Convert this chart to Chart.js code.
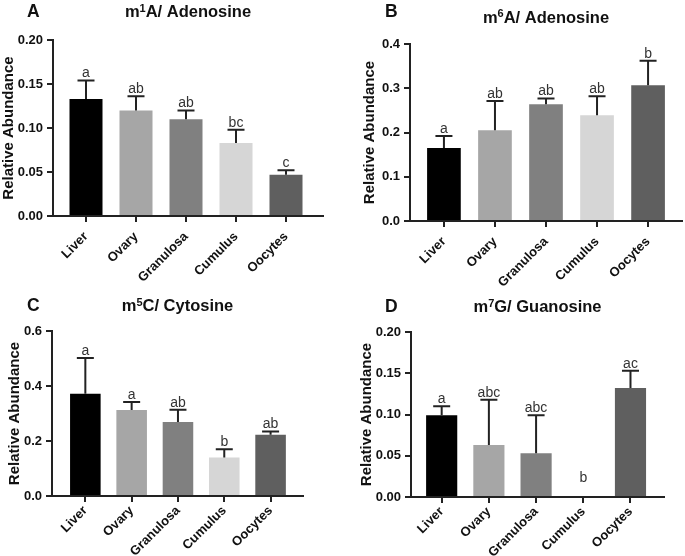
<!DOCTYPE html>
<html>
<head>
<meta charset="utf-8">
<script src="https://cdn.jsdelivr.net/npm/chart.js@4"></script>
<style>
  body { margin: 0; background: #fff; width: 685px; height: 556px; position: relative; overflow: hidden; }
  canvas { position: absolute; }
</style>
</head>
<body>
<canvas id="cA"></canvas>
<canvas id="cB"></canvas>
<canvas id="cC"></canvas>
<canvas id="cD"></canvas>
<script>
// shared categories and bar fills
var tissues = ['Liver', 'Ovary', 'Granulosa', 'Cumulus', 'Oocytes'];
var barColors = ['#000000', '#a6a6a6', '#808080', '#d6d6d6', '#5f5f5f'];

// A: m1A / Adenosine
var m1A = [0.133, 0.120, 0.110, 0.083, 0.047];
var m1ASem = [0.021, 0.016, 0.010, 0.015, 0.005];
var m1ASig = ['a', 'ab', 'ab', 'bc', 'c'];
var m1ATicks = [0, 0.05, 0.10, 0.15, 0.20];

// B: m6A / Adenosine
var m6A = [0.165, 0.205, 0.264, 0.239, 0.307];
var m6ASem = [0.027, 0.066, 0.013, 0.043, 0.055];
var m6ASig = ['a', 'ab', 'ab', 'ab', 'b'];
var m6ATicks = [0, 0.1, 0.2, 0.3, 0.4];

// C: m5C / Cytosine
var m5C = [0.372, 0.313, 0.269, 0.140, 0.223];
var m5CSem = [0.130, 0.029, 0.045, 0.030, 0.012];
var m5CSig = ['a', 'a', 'ab', 'b', 'ab'];
var m5CTicks = [0, 0.2, 0.4, 0.6];

// D: m7G / Guanosine
var m7G = [0.099, 0.063, 0.053, 0, 0.132];
var m7GSem = [0.011, 0.055, 0.046, 0, 0.021];
var m7GSig = ['a', 'abc', 'abc', 'b', 'ac'];
var m7GTicks = [0, 0.05, 0.10, 0.15, 0.20];

var FONT = '"Liberation Sans", Arial, sans-serif';
var INK = '#111';

// draws panel letter, title with superscript, error bars and significance letters
var decor = {
  id: 'decor',
  afterDatasetsDraw: function (chart) {
    var p = chart.options.plugins.decor;
    var xs = chart.scales.x, ys = chart.scales.y, ctx = chart.ctx;
    var base = ys.getPixelForValue(0);
    ctx.save();
    ctx.strokeStyle = '#222';
    ctx.lineWidth = 2;
    ctx.fillStyle = '#333';
    ctx.font = '14px ' + FONT;
    ctx.textAlign = 'center';
    ctx.textBaseline = 'alphabetic';
    p.vals.forEach(function (v, i) {
      var x = xs.getPixelForValue(i);
      var yBar = ys.getPixelForValue(v);
      var yTop = ys.getPixelForValue(v + p.sem[i]);
      if (p.sem[i] > 0) {
        ctx.beginPath();
        ctx.moveTo(x, yBar);
        ctx.lineTo(x, yTop);
        ctx.moveTo(x - 8.5, yTop);
        ctx.lineTo(x + 8.5, yTop);
        ctx.stroke();
      }
      ctx.fillText(p.sig[i], x, Math.min(yTop - 3, base - 15));
    });
    ctx.restore();
  },
  afterDraw: function (chart) {
    var p = chart.options.plugins.decor;
    var ctx = chart.ctx, a = chart.chartArea;
    ctx.save();
    ctx.fillStyle = '#111';
    ctx.textBaseline = 'alphabetic';
    ctx.textAlign = 'left';
    ctx.font = 'bold 17.5px ' + FONT;
    ctx.fillText(p.letter, p.letterX, p.letterBase);

    var big = 'bold 16.5px ' + FONT, small = 'bold 11px ' + FONT;
    ctx.font = big;
    var w1 = ctx.measureText(p.title[0]).width;
    var w3 = ctx.measureText(p.title[2]).width;
    ctx.font = small;
    var w2 = ctx.measureText(p.title[1]).width;
    var x = (a.left + a.right) / 2 - (w1 + w2 + w3) / 2;
    ctx.font = big;
    ctx.fillText(p.title[0], x, p.titleBase);
    ctx.font = small;
    ctx.fillText(p.title[1], x + w1, p.titleBase - 5.5);
    ctx.font = big;
    ctx.fillText(p.title[2], x + w1 + w2, p.titleBase);
    ctx.restore();
  }
};

function makePanel(id, p) {
  var el = document.getElementById(id);
  el.width = p.w;
  el.height = p.h;
  el.style.left = p.left + 'px';
  el.style.top = p.top + 'px';
  return new Chart(el, {
    type: 'bar',
    data: {
      datasets: [{
        data: p.vals.map(function (v, i) { return { x: i, y: v }; }),
        backgroundColor: barColors,
        borderWidth: 0,
        barPercentage: 0.66,
        categoryPercentage: 1
      }]
    },
    options: {
      responsive: false,
      animation: false,
      layout: { padding: { top: p.areaT, right: p.w - p.areaR, left: 0, bottom: 0 } },
      plugins: {
        legend: { display: false },
        tooltip: { enabled: false },
        decor: { vals: p.vals, sem: p.sem, sig: p.sig, title: p.title, letter: p.letter,
                 letterX: p.letterX, letterBase: p.letterBase, titleBase: p.titleBase }
      },
      scales: {
        x: {
          type: 'linear',
          min: p.xmin,
          max: p.xmax,
          offset: false,
          afterBuildTicks: function (s) { s.ticks = tissues.map(function (t, i) { return { value: i }; }); },
          afterFit: function (s) { s.height = p.h - p.areaB; },
          ticks: {
            autoSkip: false, minRotation: 45, maxRotation: 45, padding: p.xPad,
            color: INK, font: { family: FONT, size: 13, weight: 'bold' },
            callback: function (v) { return tissues[Math.round(v)]; }
          },
          grid: { drawOnChartArea: false, offset: false, tickLength: 6, color: '#222', lineWidth: 2 },
          border: { color: '#222', width: 2 }
        },
        y: {
          min: 0,
          max: p.ticks[p.ticks.length - 1],
          afterBuildTicks: function (s) { s.ticks = p.ticks.map(function (v) { return { value: v }; }); },
          afterFit: function (s) { s.width = p.areaL; },
          ticks: {
            padding: 4, color: INK, font: { family: FONT, size: 13, weight: 'bold' },
            callback: function (v) { return v.toFixed(p.dec); }
          },
          grid: { drawOnChartArea: false, tickLength: 6, color: '#222', lineWidth: 2 },
          border: { color: '#222', width: 2 },
          title: {
            display: true, text: 'Relative Abundance', color: INK,
            font: { family: FONT, size: 15, weight: 'bold' },
            padding: { top: p.yTitlePad, bottom: 0 }
          }
        }
      }
    },
    plugins: [decor]
  });
}

makePanel('cA', { left: 0, top: 0, w: 342, h: 300, areaL: 53, areaT: 40, areaB: 216, areaR: 323,
  titleBase: 17.3, letter: 'A', letterX: 27, letterBase: 17.3, yTitlePad: 0, xmin: -0.66, xmax: 4.74, xPad: 7,
  vals: m1A, sem: m1ASem, sig: m1ASig, ticks: m1ATicks, dec: 2, title: ['m', '1', 'A/ Adenosine'] });

makePanel('cB', { left: 342, top: 0, w: 343, h: 300, areaL: 68, areaT: 44, areaB: 221, areaR: 340,
  titleBase: 22.7, letter: 'B', letterX: 43, letterBase: 16.7, yTitlePad: 19, xmin: -0.665, xmax: 4.665, xPad: 7,
  vals: m6A, sem: m6ASem, sig: m6ASig, ticks: m6ATicks, dec: 1, title: ['m', '6', 'A/ Adenosine'] });

makePanel('cC', { left: 0, top: 278, w: 342, h: 278, areaL: 52, areaT: 53, areaB: 218, areaR: 303,
  titleBase: 33.3, letter: 'C', letterX: 27, letterBase: 33.3, yTitlePad: 6, xmin: -0.72, xmax: 4.70, xPad: 1,
  vals: m5C, sem: m5CSem, sig: m5CSig, ticks: m5CTicks, dec: 1, title: ['m', '5', 'C/ Cytosine'] });

makePanel('cD', { left: 342, top: 278, w: 343, h: 278, areaL: 69, areaT: 54, areaB: 219, areaR: 322,
  titleBase: 34.3, letter: 'D', letterX: 43, letterBase: 34.3, yTitlePad: 16, xmin: -0.65, xmax: 4.71, xPad: 1,
  vals: m7G, sem: m7GSem, sig: m7GSig, ticks: m7GTicks, dec: 2, title: ['m', '7', 'G/ Guanosine'] });
</script>
</body>
</html>
